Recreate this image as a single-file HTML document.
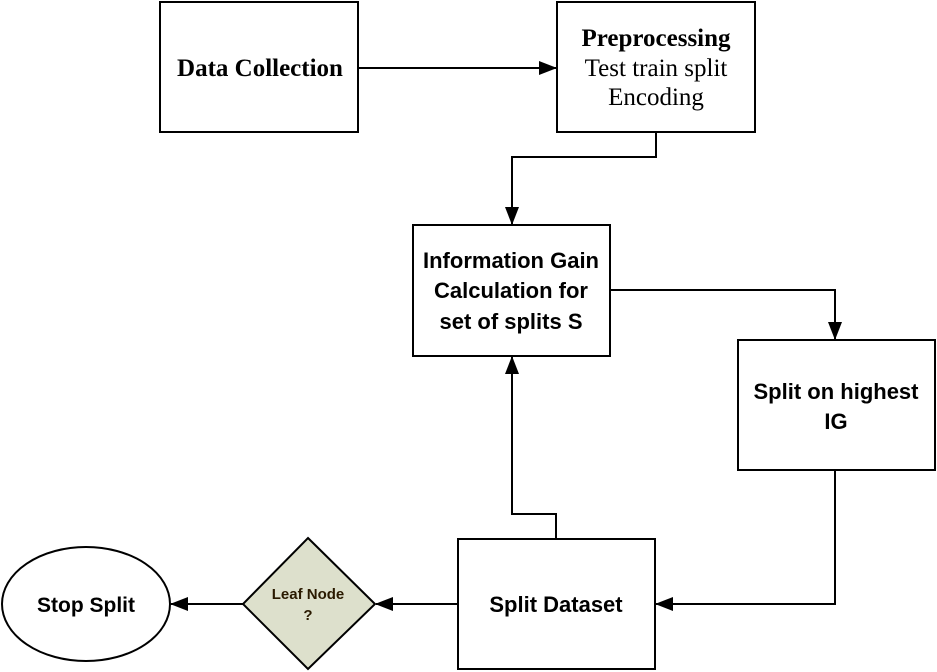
<!DOCTYPE html>
<html><head><meta charset="utf-8"><style>
html,body{margin:0;padding:0;background:#fff;width:937px;height:672px;overflow:hidden}
svg text{font-family:"Liberation Sans",sans-serif;font-weight:bold;fill:#000}
</style></head><body>
<svg width="937" height="672" viewBox="0 0 937 672" xmlns="http://www.w3.org/2000/svg">
<defs><marker id="a" markerWidth="18" markerHeight="14" refX="17" refY="7" orient="auto" markerUnits="userSpaceOnUse"><path d="M0,0 L18,7 L0,14 z" fill="#000"/></marker></defs>
<g fill="#fff" stroke="#000" stroke-width="2">
<rect x="160" y="2" width="198" height="130"/>
<rect x="557" y="2" width="198" height="130"/>
<rect x="413" y="225" width="197" height="131"/>
<rect x="738" y="340" width="197" height="130"/>
<rect x="458" y="539" width="197" height="130"/>
<ellipse cx="86" cy="604" rx="84" ry="57"/>
<polygon points="308,538 375,604 308,669 243,604" fill="#dde0cc"/>
</g>
<g fill="none" stroke="#000" stroke-width="2">
<path d="M358,68 L556,68" marker-end="url(#a)"/>
<path d="M656,132 L656,157 L512,157 L512,224" marker-end="url(#a)"/>
<path d="M610,290 L835,290 L835,339" marker-end="url(#a)"/>
<path d="M835,470 L835,604 L656,604" marker-end="url(#a)"/>
<path d="M556,539 L556,514 L512,514 L512,357" marker-end="url(#a)"/>
<path d="M458,604 L376,604" marker-end="url(#a)"/>
<path d="M243,604 L171,604" marker-end="url(#a)"/>
</g>
<g text-anchor="middle">
<text x="260" y="76" style="font-family:'Liberation Serif',serif;font-size:25px">Data Collection</text>
<text x="656" y="46" style="font-family:'Liberation Serif',serif;font-size:25px">Preprocessing</text>
<text x="656" y="76" style="font-family:'Liberation Serif',serif;font-size:25px;font-weight:normal">Test train split</text>
<text x="656" y="105" style="font-family:'Liberation Serif',serif;font-size:25px;font-weight:normal">Encoding</text>
<text x="511" y="268" font-size="22">Information Gain</text>
<text x="511" y="298" font-size="22">Calculation for</text>
<text x="511" y="329" font-size="22">set of splits S</text>
<text x="836" y="399" font-size="22">Split on highest</text>
<text x="836" y="429" font-size="22">IG</text>
<text x="556" y="612" font-size="22">Split Dataset</text>
<text x="86" y="612" font-size="21">Stop Split</text>
<text x="308" y="599" font-size="15" style="fill:#2a1a00">Leaf Node</text>
<text x="308" y="620" font-size="15" style="fill:#2a1a00">?</text>
</g>
</svg>
</body></html>
